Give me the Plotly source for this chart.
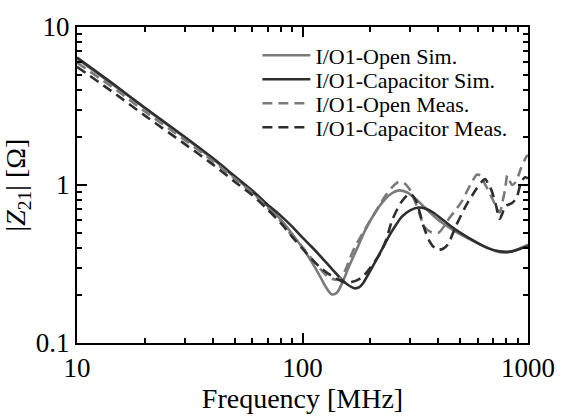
import plotly.graph_objects as go

# ---------------- data ----------------
f_open_sim = [10, 15, 20, 30, 40, 50, 60, 70, 80, 90, 100, 110, 120, 128, 135, 142, 150, 160, 175, 190,
              210, 230, 250, 268, 290, 320, 340, 370, 410, 470, 550, 650, 750, 850, 950, 1000]
z_open_sim = [6.3, 4.15, 3.06, 2.0, 1.46, 1.12, 0.9, 0.735, 0.605, 0.49, 0.4, 0.325, 0.262, 0.222, 0.203,
              0.208, 0.24, 0.3, 0.4, 0.52, 0.67, 0.8, 0.89, 0.925, 0.9, 0.81, 0.745, 0.665, 0.585, 0.515,
              0.455, 0.405, 0.375, 0.38, 0.405, 0.42]

f_cap_sim = [10, 15, 20, 30, 40, 50, 60, 70, 80, 90, 100, 110, 120, 135, 150, 160, 170, 178, 186, 198,
             211, 227, 243, 260, 276, 300, 327, 350, 380, 420, 470, 550, 658, 750, 850, 950, 1000]
z_cap_sim = [6.4, 4.2, 3.08, 2.02, 1.48, 1.14, 0.92, 0.75, 0.64, 0.545, 0.465, 0.405, 0.355, 0.295, 0.25,
             0.232, 0.222, 0.225, 0.24, 0.28, 0.33, 0.4, 0.48, 0.56, 0.63, 0.69, 0.72, 0.71, 0.67, 0.6,
             0.53, 0.46, 0.4, 0.38, 0.38, 0.4, 0.41]

f_open_meas = [10, 15, 20, 30, 40, 50, 60, 70, 80, 90, 100, 110, 121, 130, 140, 148, 155, 162, 170, 190,
               210, 230, 250, 265, 280, 300, 314, 330, 348, 375, 402, 425, 445, 480, 512, 540, 567, 593,
               615, 640, 660, 700, 730, 749, 770, 790, 810, 830, 850, 880, 930, 980, 1000]
z_open_meas = [5.95, 3.98, 2.92, 1.93, 1.42, 1.1, 0.89, 0.72, 0.59, 0.475, 0.405, 0.34, 0.29, 0.262, 0.252,
               0.26, 0.29, 0.34, 0.4, 0.53, 0.67, 0.83, 0.97, 1.04, 1.04, 0.93, 0.8, 0.66, 0.54, 0.5, 0.5,
               0.55, 0.61, 0.7, 0.8, 0.93, 1.06, 1.16, 1.15, 1.03, 0.95, 0.8, 0.7, 0.67, 0.78, 0.92, 1.15,
               1.06, 1.0, 1.04, 1.27, 1.5, 1.55]

f_cap_meas = [10, 15, 20, 30, 40, 50, 60, 70, 80, 90, 100, 110, 120, 130, 140, 150, 157, 165, 175, 186,
              200, 220, 235, 250, 276, 300, 318, 344, 366, 385, 400, 420, 441, 479, 528, 583, 620, 645,
              670, 690, 720, 749, 770, 790, 850, 890, 930, 970, 1000]
z_cap_meas = [5.6, 3.72, 2.75, 1.82, 1.35, 1.05, 0.86, 0.7, 0.575, 0.47, 0.395, 0.34, 0.3, 0.275, 0.258,
              0.245, 0.24, 0.243, 0.25, 0.265, 0.3, 0.365, 0.45, 0.6, 0.79, 0.88, 0.8, 0.55, 0.44, 0.4,
              0.39, 0.395, 0.42, 0.55, 0.73, 0.92, 1.04, 1.09, 1.0, 0.92, 0.75, 0.61, 0.66, 0.73, 0.77,
              0.83, 1.03, 1.12, 1.1]

names = ["I/O1-Open Sim.", "I/O1-Capacitor Sim.", "I/O1-Open Meas.", "I/O1-Capacitor Meas."]

x_tickvals = [10, 100, 1000]
x_ticktext = ["10", "100", "1000"]
y_tickvals = [0.1, 1, 10]
y_ticktext = ["0.1", "1", "10"]
x_minor = [20, 30, 40, 50, 60, 70, 80, 90, 200, 300, 400, 500, 600, 700, 800, 900]
y_minor = [0.2, 0.3, 0.4, 0.5, 0.6, 0.7, 0.8, 0.9, 2, 3, 4, 5, 6, 7, 8, 9]

# ---------------- styles ----------------
LIGHT = "#7a7a7a"
DARK = "#2e2e2e"
FONT = "'Liberation Serif', 'Times New Roman', 'DejaVu Serif', serif"

legend_ids = ["legend", "legend2", "legend3", "legend4"]
legend_rows_y = [0.91, 0.834, 0.758, 0.682]   # paper positions of the legend rows

fig = go.Figure()
series = [
    (f_open_sim, z_open_sim, LIGHT, "solid"),
    (f_cap_sim, z_cap_sim, DARK, "solid"),
    (f_open_meas, z_open_meas, LIGHT, "10px,6px"),
    (f_cap_meas, z_cap_meas, DARK, "10px,6px"),
]
for (fx, zy, col, dash), nm, lg in zip(series, names, legend_ids):
    fig.add_trace(go.Scatter(
        x=fx, y=zy, name=nm, mode="lines", legend=lg,
        line=dict(color=col, width=2.6, dash=dash, shape="spline", smoothing=0.8),
    ))

axis_common = dict(
    showline=True, linecolor="black", linewidth=2, mirror="ticks",
    ticks="inside", ticklen=10, tickwidth=1.5, tickcolor="black",
    showgrid=False, zeroline=False,
    tickfont=dict(family=FONT, size=27, color="black"),
)

fig.update_xaxes(
    type="log", range=[1, 3], tickvals=x_tickvals, ticktext=x_ticktext,
    minor=dict(tickvals=x_minor, ticks="inside", ticklen=5, tickwidth=1.5, tickcolor="black", showgrid=False),
    title=dict(text="Frequency [MHz]", font=dict(family=FONT, size=28, color="black"), standoff=2),
    **axis_common,
)
fig.update_yaxes(
    type="log", range=[-1, 1], tickvals=y_tickvals, ticktext=y_ticktext,
    minor=dict(tickvals=y_minor, ticks="inside", ticklen=5, tickwidth=1.5, tickcolor="black", showgrid=False),
    title=dict(text="|<i>Z</i><sub>21</sub>| [Ω]", font=dict(family=FONT, size=28, color="black"), standoff=4),
    **axis_common,
)

legend_style = dict(
    x=0.40, xanchor="left", yanchor="middle",
    bgcolor="rgba(0,0,0,0)", borderwidth=0,
    font=dict(family=FONT, size=22, color="black"),
    itemwidth=48,
)
layout_legends = {lg: dict(y=yy, **legend_style) for lg, yy in zip(legend_ids, legend_rows_y)}

fig.update_layout(
    width=567, height=417,
    margin=dict(l=77, r=28, t=18, b=67),
    paper_bgcolor="white", plot_bgcolor="white",
    font=dict(family=FONT),
    showlegend=True,
    **layout_legends,
)

fig.write_html("out.html")
